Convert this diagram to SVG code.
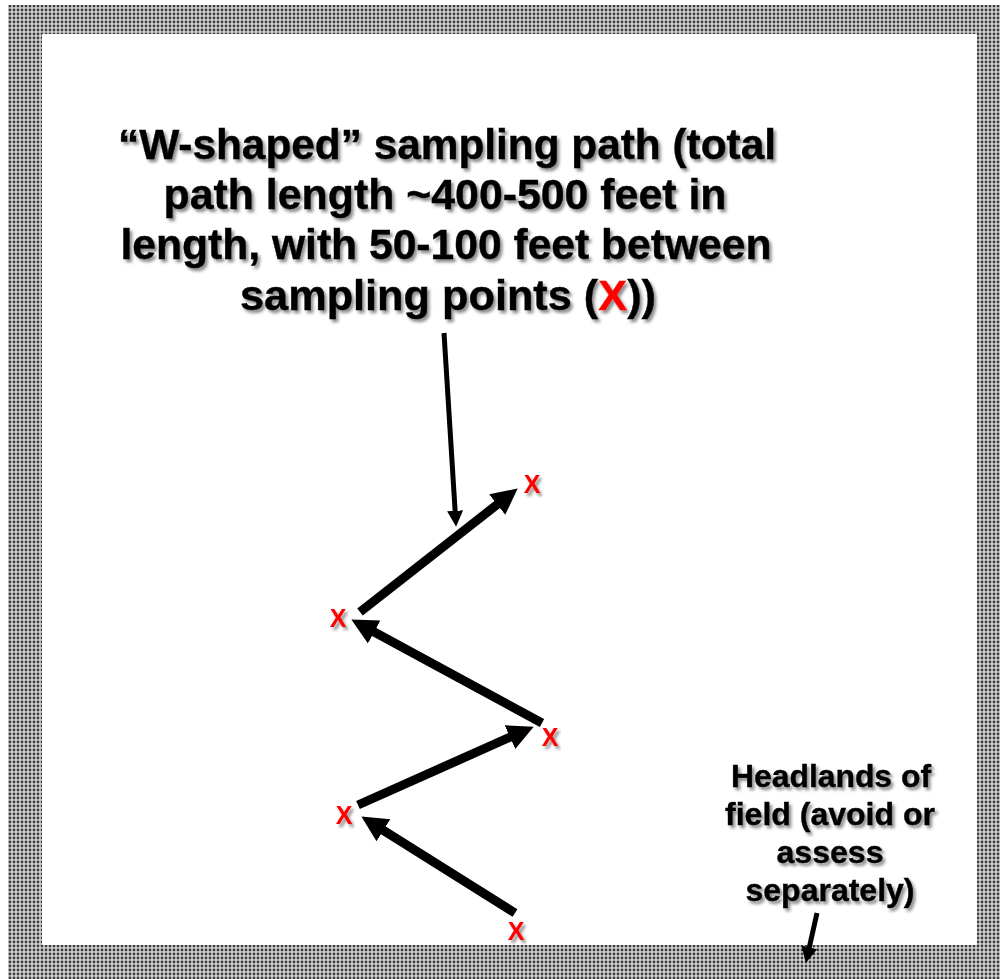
<svg xmlns="http://www.w3.org/2000/svg" width="1000" height="979" viewBox="0 0 1000 979">
<style>
.t{font-family:"Liberation Sans",Arial,sans-serif;font-weight:bold;fill:#000;stroke:#000;stroke-width:0.4;text-anchor:middle;filter:url(#sh)}
.title{font-size:42px}
.head{font-size:32px}
.red{fill:#ff0000;stroke:#ff0000}
.x{font-family:"Liberation Sans",Arial,sans-serif;font-weight:bold;font-size:25px;fill:#ff0000;text-anchor:middle;filter:url(#sh)}
.thick{stroke:#000;stroke-width:9;fill:none;marker-end:url(#big)}
.thin{stroke:#000;stroke-width:5;fill:none;marker-end:url(#small)}
</style>
<defs>
<pattern id="dots" x="0" y="0" width="4" height="4" patternUnits="userSpaceOnUse">
<rect width="4" height="4" fill="#d2d2d2"/>
<circle cx="2" cy="2" r="1.4" fill="#3c3c3c"/>
</pattern>
<filter id="sh" x="-10%" y="-20%" width="120%" height="150%">
<feDropShadow dx="2.5" dy="3" stdDeviation="1.8" flood-color="#000" flood-opacity="0.45"/>
</filter>
<marker id="big" viewBox="0 0 10 10" refX="2" refY="5" markerWidth="26" markerHeight="28" markerUnits="userSpaceOnUse" orient="auto">
<path d="M0,0 L10,5 L0,10 z" fill="#000"/>
</marker>
<marker id="small" viewBox="0 0 10 10" refX="2" refY="5" markerWidth="16" markerHeight="17" markerUnits="userSpaceOnUse" orient="auto">
<path d="M0,0 L10,5 L0,10 z" fill="#000"/>
</marker>
</defs>
<g id="background">
<rect x="0" y="0" width="1000" height="979" fill="#fff"/>
<rect x="8" y="5" width="992" height="974" fill="url(#dots)"/>
<rect x="42" y="34" width="935" height="911" fill="#fff"/>
</g>
<g id="title">
<text class="t title" x="447" y="159" textLength="658" lengthAdjust="spacingAndGlyphs">“W-shaped” sampling path (total</text>
<text class="t title" x="445" y="209" textLength="563" lengthAdjust="spacingAndGlyphs">path length ~400-500 feet in</text>
<text class="t title" x="446" y="259" textLength="651" lengthAdjust="spacingAndGlyphs">length, with 50-100 feet between</text>
<text class="t title" x="448" y="310" textLength="416" lengthAdjust="spacingAndGlyphs">sampling points (<tspan class="red">X</tspan>))</text>
</g>
<g id="headlands">
<text class="t head" x="831" y="787" textLength="200" lengthAdjust="spacingAndGlyphs">Headlands of</text>
<text class="t head" x="830" y="825" textLength="210" lengthAdjust="spacingAndGlyphs">field (avoid or</text>
<text class="t head" x="830" y="863" textLength="107" lengthAdjust="spacingAndGlyphs">assess</text>
<text class="t head" x="830" y="901" textLength="169" lengthAdjust="spacingAndGlyphs">separately)</text>
</g>
<g id="p1"><text class="x" x="516" y="940">X</text></g>
<g id="p2"><text class="x" x="344" y="824">X</text></g>
<g id="p3"><text class="x" x="550" y="746">X</text></g>
<g id="p4"><text class="x" x="338" y="627">X</text></g>
<g id="p5"><text class="x" x="532" y="493">X</text></g>
<g id="connectors">
<line class="thick" x1="515" y1="913" x2="379" y2="827.6"/>
<line class="thick" x1="358" y1="805" x2="514.7" y2="735.1"/>
<line class="thick" x1="542" y1="723" x2="369.6" y2="629.5"/>
<line class="thick" x1="360" y1="612" x2="501.3" y2="501.3"/>
<line class="thin" x1="444" y1="333" x2="455.3" y2="514"/>
<line class="thin" x1="817" y1="913" x2="808.6" y2="950.5"/>
</g>
</svg>
